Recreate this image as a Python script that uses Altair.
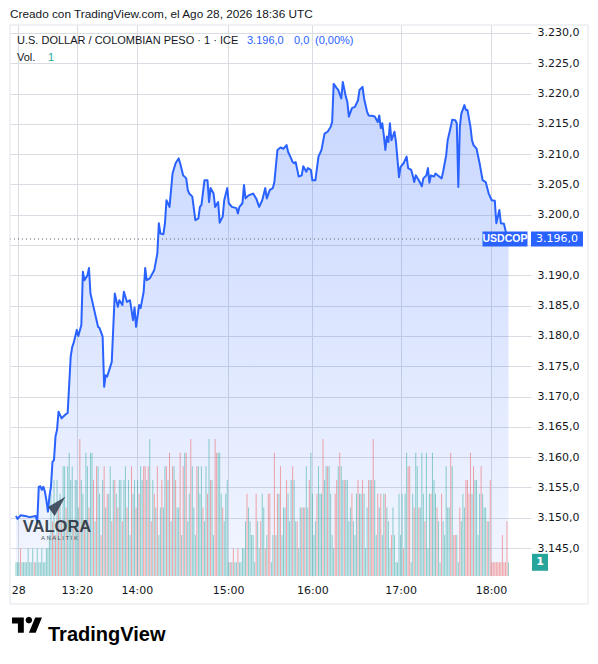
import altair as alt
import pandas as pd

# ---------------- data ----------------
# price series: bar index (1-minute bars) and price
price_idx = [0, 1, 3, 6, 9, 13, 14, 15, 16, 17, 18, 19, 20, 21, 22, 23, 24, 25, 26, 27,
             28, 30, 32, 34, 36, 37, 38, 40, 41, 43, 44, 45, 47, 48, 49, 51, 53, 54, 55, 57,
             58, 59, 60, 62, 63, 65, 67, 68, 70, 71, 73, 75, 77, 78, 79, 81, 82, 84, 85, 86,
             88, 91, 93, 94, 95, 97, 98, 99, 101, 103, 105, 107, 108, 110, 112, 113, 114, 116, 118, 120,
             121, 122, 124, 126, 127, 128, 130, 131, 133, 134, 136, 137, 139, 140, 142, 145, 146, 147, 149, 150,
             151, 153, 156, 158, 160, 162, 164, 165, 167, 169, 170, 172, 174, 176, 178, 179, 181, 182, 183, 184,
             186, 188, 189, 191, 192, 194, 195, 197, 199, 201, 203, 205, 207, 208, 209, 211, 212, 214, 215, 217,
             218, 219, 221, 223, 225, 226, 228, 229, 231, 232, 235, 236, 238, 239, 240, 241, 242, 243, 244, 245,
             246, 247, 249, 250, 252, 253, 255, 257, 258, 260, 261, 262, 263, 265, 267, 268, 270, 271, 272, 273,
             275, 276, 278, 280, 281, 283, 284, 286, 287, 289, 290, 291, 292, 293, 295, 296, 297, 299, 300, 301,
             303, 305, 307, 309, 311, 313, 315, 316, 318, 319, 321, 322, 323, 324]
price_val = [3150.3, 3149.8, 3150.4, 3150.3, 3150.1, 3150.3, 3149.3, 3155.1, 3155.2, 3154.6, 3155.1, 3154.3, 3152.9, 3151.0, 3153.5, 3155.1, 3159.2, 3159.5, 3163.4, 3164.5,
             3167.5, 3166.4, 3166.9, 3167.3, 3176.6, 3178.2, 3178.9, 3181.0, 3180.0, 3181.8, 3190.6, 3189.2, 3190.0, 3191.2, 3187.0, 3184.8, 3182.6, 3181.5, 3181.3, 3179.9,
             3171.6, 3173.5, 3173.3, 3174.9, 3175.7, 3187.0, 3184.8, 3185.9, 3185.1, 3187.3, 3185.6, 3185.9, 3182.6, 3184.7, 3181.5, 3185.1, 3184.6, 3187.3, 3191.2, 3189.2,
             3189.5, 3190.9, 3193.6, 3198.6, 3196.9, 3196.8, 3198.6, 3202.4, 3201.3, 3206.8, 3208.5, 3209.3, 3208.5, 3206.5, 3206.0, 3204.1, 3203.5, 3203.0, 3199.1, 3199.4,
             3201.3, 3201.6, 3205.7, 3205.7, 3202.1, 3204.4, 3203.5, 3201.3, 3202.1, 3198.7, 3199.7, 3202.4, 3204.4, 3201.9, 3201.3, 3201.1, 3200.2, 3201.3, 3201.9, 3204.9,
             3202.7, 3203.2, 3203.5, 3202.7, 3201.3, 3202.4, 3204.4, 3202.7, 3204.1, 3204.4, 3205.4, 3210.7, 3211.1, 3210.9, 3211.5, 3210.4, 3209.3, 3208.7, 3208.5, 3208.7,
             3206.3, 3206.5, 3208.0, 3207.1, 3207.7, 3207.4, 3205.7, 3205.7, 3209.6, 3210.7, 3213.4, 3213.7, 3214.5, 3215.3, 3221.6, 3220.9, 3220.6, 3219.2, 3221.9, 3219.5,
             3218.6, 3216.2, 3217.6, 3217.8, 3218.9, 3220.6, 3221.1, 3219.2, 3217.0, 3216.4, 3216.3, 3216.2, 3215.3, 3216.4, 3214.3, 3215.1, 3213.1, 3210.7, 3212.9, 3212.0,
             3215.1, 3212.3, 3213.7, 3212.0, 3206.2, 3207.9, 3208.5, 3209.6, 3207.7, 3207.4, 3206.5, 3205.4, 3206.5, 3205.7, 3204.7, 3206.0, 3206.5, 3207.7, 3205.3, 3206.5,
             3206.3, 3206.8, 3206.4, 3206.0, 3207.1, 3209.8, 3212.3, 3214.5, 3215.7, 3215.6, 3215.1, 3204.6, 3214.5, 3216.7, 3218.1, 3217.3, 3217.3, 3214.5, 3212.3, 3211.5,
             3210.9, 3208.5, 3205.7, 3205.4, 3203.5, 3202.4, 3202.3, 3198.6, 3200.8, 3198.6, 3198.5, 3197.5, 3196.2, 3196.0]

# volume per bar (bar index = position in list)
volume = [1, 1, 1, 2, 1, 1, 1, 1, 2, 1, 1, 2, 1, 1, 2, 1, 1, 2, 1, 1, 2,
          2, 3, 6, 4, 7, 3, 7, 5, 6, 4, 8, 8, 5, 8, 9, 7, 8, 4, 7, 7,
          5, 10, 7, 6, 4, 9, 8, 5, 9, 9, 7, 4, 8, 8, 6, 3, 7, 8, 5, 6,
          6, 8, 4, 7, 7, 6, 5, 7, 7, 4, 7, 8, 5, 7, 3, 8, 6, 7, 5, 7, 6, 8,
          7, 8, 8, 7, 8, 10, 4, 7, 6, 5, 8, 3, 5, 7, 5, 8, 8, 7, 9, 4, 8,
          8, 7, 5, 5, 9, 3, 8, 9, 9, 4, 6, 10, 8, 5, 3, 8, 8, 6, 8, 5,
          4, 8, 6, 10, 7, 7, 3, 10, 9, 9, 9, 6, 5, 4, 6, 7,
          1, 1, 1, 2, 1, 1, 2, 1, 1,
          2, 2, 4, 6, 5, 4, 3, 3, 1, 6, 4, 2, 4, 6, 5, 2, 3,
          6, 6, 1, 3, 9, 3, 6, 6, 8, 3, 5, 5, 7, 6, 4, 7, 8, 7, 4, 4, 2,
          5, 5, 5, 5, 8, 5, 7, 9, 6, 3, 4, 6, 8, 6, 6, 10, 7, 8, 8, 8, 6, 3,
          2, 6, 7, 8, 9, 8, 7, 7, 7, 7, 4, 5, 6, 4, 3, 6, 7, 6, 6, 7, 6, 2,
          5, 7, 7, 7, 10, 7, 3, 6, 5, 6, 3, 6, 6, 5, 4, 2, 3, 5, 3, 1,
          1, 6, 3, 6, 2, 6, 9, 8, 8, 1, 6, 5, 9, 8, 5, 5, 9, 6, 4, 9, 2,
          6, 6, 9, 7, 6, 5, 4, 1, 6, 4, 3, 8, 5, 5, 9, 8, 3, 3, 3, 1, 5, 4,
          6, 5, 7, 7, 6, 9, 6, 8, 7, 7, 3, 6, 8, 6, 5, 5, 4, 4, 7,
          1, 1, 1, 1, 1, 1, 1, 3, 1, 1, 4, 1]

# bars that closed down (red); the rest are up (teal)
down_bars = [3, 12, 24, 26, 28, 30, 33, 38, 42, 45, 48, 51, 53, 56, 58, 60, 63, 65, 67, 70, 73, 76, 79, 81,
             84, 85, 87, 89, 91, 93, 96, 99, 101, 103, 105, 108, 110, 112, 115, 119, 123, 126, 128, 131, 132, 136,
             141, 143, 146, 152, 158, 161, 164, 166, 167, 170, 172, 174, 178, 182, 185, 188, 190, 193, 198, 202,
             205, 210, 211, 213, 216, 221, 225, 228, 232, 234, 235, 238, 240, 243, 247, 255, 258, 259, 262, 265,
             269, 273, 277, 280, 286, 288, 289, 292, 296, 297, 298, 299, 301, 306, 310, 312, 313, 314, 315, 316,
             317, 318, 319, 320, 321, 322, 323]

y_ticks = [3145, 3150, 3155, 3160, 3165, 3170, 3175, 3180, 3185, 3190, 3195, 3200, 3205, 3210,
           3215, 3220, 3225, 3230]
y_hidden = 3195  # label covered by the last-price tag
x_tick_idx = [1.5, 40, 79.5, 139.5, 195, 253, 312.5]
x_tick_lbl = ["28", "13:20", "14:00", "15:00", "16:00", "17:00", "18:00"]

# ---------------- styling ----------------
W, H = 517, 551
P_MIN, P_MAX = 3140.38, 3231.32
V_MAX = 40.2
X_MIN, X_MAX = -0.65, 332.9
BLUE = "#2962ff"
GRID = "#d9dce3"
TXT = "#131722"
AXF = "DejaVu Sans"
SF = "Liberation Sans"


def es(v):
    return f"{v:,.1f}".replace(",", "#").replace(".", ",").replace("#", ".")


last_price = price_val[-1]
last_vol = volume[-1]

price_df = pd.DataFrame({"i": price_idx, "p": price_val})
vol_df = pd.DataFrame({"i": list(range(len(volume))), "v": volume})
dset = set(down_bars)
vol_df["d"] = ["down" if i in dset else "up" for i in vol_df["i"]]
last_df = pd.DataFrame({"p": [last_price], "lbl": [es(last_price)]})
lastv_df = pd.DataFrame({"v": [last_vol], "lbl": [str(last_vol)]})

xscale = alt.Scale(domain=[X_MIN, X_MAX], nice=False, zero=False)
yscale = alt.Scale(domain=[P_MIN, P_MAX], nice=False, zero=False)
vscale = alt.Scale(domain=[0, V_MAX], nice=False, zero=False)

x_expr = " : ".join(f"datum.value == {v} ? '{l}'" for v, l in zip(x_tick_idx, x_tick_lbl)) + " : ''"
y_expr = (f"datum.value == {y_hidden} ? '' : "
          "replace(replace(replace(format(datum.value, ',.1f'), ',', '#'), '.', ','), '#', '.')")

xaxis = alt.Axis(values=x_tick_idx, labelExpr=x_expr, grid=True, gridColor=GRID, gridWidth=1,
                 domain=False, ticks=False, labelPadding=8, labelFont=AXF, labelFontSize=11,
                 labelColor=TXT, labelFlush=False, labelOverlap=False, title=None)
yaxis = alt.Axis(orient="right", values=y_ticks, labelExpr=y_expr,
                 grid=True, gridColor=GRID, gridWidth=1, domain=False, tickColor=GRID, tickSize=4,
                 labelPadding=6, labelFont=AXF, labelFontSize=11, labelColor=TXT, labelOverlap=False,
                 labelFlush=False, title=None)

X = alt.X("i:Q", scale=xscale, axis=xaxis)

grad = alt.Gradient(gradient="linear",
                    stops=[alt.GradientStop(color="rgba(41,98,255,0.26)", offset=0),
                           alt.GradientStop(color="rgba(41,98,255,0.06)", offset=1)],
                    x1=0, x2=0, y1=0, y2=1)

area = alt.Chart(price_df).mark_area(color=grad, clip=True).encode(
    x=X,
    y=alt.Y("p:Q", scale=yscale, axis=yaxis),
    y2=alt.datum(P_MIN),
)

bars = alt.Chart(vol_df).mark_bar(size=1, opacity=0.5).encode(
    x=X,
    y=alt.Y("v:Q", scale=vscale, axis=None),
    color=alt.Color("d:N", scale=alt.Scale(domain=["up", "down"], range=["#26a69a", "#ef5350"]), legend=None),
)

line = alt.Chart(price_df).mark_line(color=BLUE, strokeWidth=2, strokeJoin="round").encode(
    x=X,
    y=alt.Y("p:Q", scale=yscale, axis=None),
)

dotted = alt.Chart(last_df).mark_rule(color="#5d606b", strokeDash=[1, 3], strokeWidth=1).encode(
    y=alt.Y("p:Q", scale=yscale, axis=None), x=alt.value(0), x2=alt.value(473)
)

box_usd = alt.Chart(last_df).mark_point(
    shape="M-1,-0.333L1,-0.333L1,0.333L-1,0.333Z", filled=True, size=2025, color=BLUE, opacity=1, strokeWidth=0
).encode(x=alt.value(495), y=alt.Y("p:Q", scale=yscale, axis=None))
txt_usd = alt.Chart(last_df).mark_text(text="USDCOP", color="white", font=SF, fontSize=10.5, fontWeight="bold",
                                       align="center", baseline="middle").encode(
    x=alt.value(495), y=alt.Y("p:Q", scale=yscale, axis=None))

box_p = alt.Chart(last_df).mark_point(
    shape="M-1,-0.288L1,-0.288L1,0.288L-1,0.288Z", filled=True, size=2704, color=BLUE, opacity=1, strokeWidth=0
).encode(x=alt.value(547), y=alt.Y("p:Q", scale=yscale, axis=None))
txt_p = alt.Chart(last_df).mark_text(color="white", font=AXF, fontSize=11, align="center", baseline="middle").encode(
    x=alt.value(547), y=alt.Y("p:Q", scale=yscale, axis=None), text="lbl:N")

box_v = alt.Chart(lastv_df).mark_point(
    shape="M-1,-1.06L1,-1.06L1,1.06L-1,1.06Z", filled=True, size=256, color="#26a69a", opacity=1, strokeWidth=0
).encode(x=alt.value(530), y=alt.Y("v:Q", scale=vscale, axis=None))
txt_v = alt.Chart(lastv_df).mark_text(color="white", font=AXF, fontSize=11, fontWeight="bold", align="center",
                                      baseline="middle").encode(
    x=alt.value(530), y=alt.Y("v:Q", scale=vscale, axis=None), text="lbl:N")


def txt(s, x, y, size=11, color=TXT, weight="normal", align="left", font=SF, opacity=1.0):
    return alt.Chart(pd.DataFrame({"t": [s]})).mark_text(
        align=align, baseline="middle", fontSize=size, font=font, fontWeight=weight, color=color, opacity=opacity
    ).encode(x=alt.value(x), y=alt.value(y), text="t:N")


frame = alt.Chart(pd.DataFrame({"a": [0]})).mark_rect(fill=None, stroke="#e0e3eb", strokeWidth=1).encode(
    x=alt.value(0), x2=alt.value(578), y=alt.value(0), y2=alt.value(579))

texts = [
    txt("Creado con TradingView.com, el Ago 28, 2026 18:36 UTC", 0, -11, size=11.8),
    txt("U.S. DOLLAR / COLOMBIAN PESO · 1 · ICE", 7, 16, size=11),
    txt("3.196,0", 237, 16, size=11, color=BLUE),
    txt("0,0", 284, 16, size=11, color=BLUE),
    txt("(0,00%)", 305, 16, size=11, color=BLUE),
    txt("Vol.", 7, 33, size=11),
    txt("1", 38, 33, size=11, color="#22ab94"),
    txt("VALORA", 47, 502, size=16.5, color="#2b3340", weight="bold", align="center", opacity=0.9),
    txt("A N A L I T I K", 49.5, 513, size=6, color="#3a3f4a", align="center", opacity=0.9),
    txt("TradingView", 38, 610, size=20, color="#000000", weight="bold"),
]

icon = alt.Chart(pd.DataFrame({"a": [0]})).mark_point(
    shape="M0.98,-1.09L-0.94,0.06L-0.2,1.06Z", filled=True, size=324, color="#2f3b4c", opacity=0.85, strokeWidth=0
).encode(x=alt.value(46.5), y=alt.value(481.5))

tv_logo = alt.Chart(pd.DataFrame({"a": [0]})).mark_point(
    shape=("M-0.222,0.444L-0.611,0.444L-0.611,-0.167L-1,-0.167L-1,-0.556L-0.222,-0.556Z "
           "M0.556,0.444L0.111,0.444L0.528,-0.556L0.972,-0.556Z "
           "M0.333,-0.389L0.268,-0.232L0.111,-0.167L-0.046,-0.232L-0.111,-0.389L-0.046,-0.546L0.111,-0.611L0.268,-0.546Z"),
    filled=True, size=924, color="#000000", opacity=1, strokeWidth=0
).encode(x=alt.value(17.2), y=alt.value(601))

chart = alt.layer(
    area, bars, line, dotted, box_usd, txt_usd, box_p, txt_p, box_v, txt_v, frame, icon, tv_logo, *texts
).resolve_scale(y="independent").properties(
    width=W, height=H,
    autosize=alt.AutoSizeParams(type="none"),
    padding={"left": 2, "top": 17, "right": 63, "bottom": 70},
).configure_view(strokeWidth=0)

chart.save("out.html", embed_options={"renderer": "svg", "actions": False})
